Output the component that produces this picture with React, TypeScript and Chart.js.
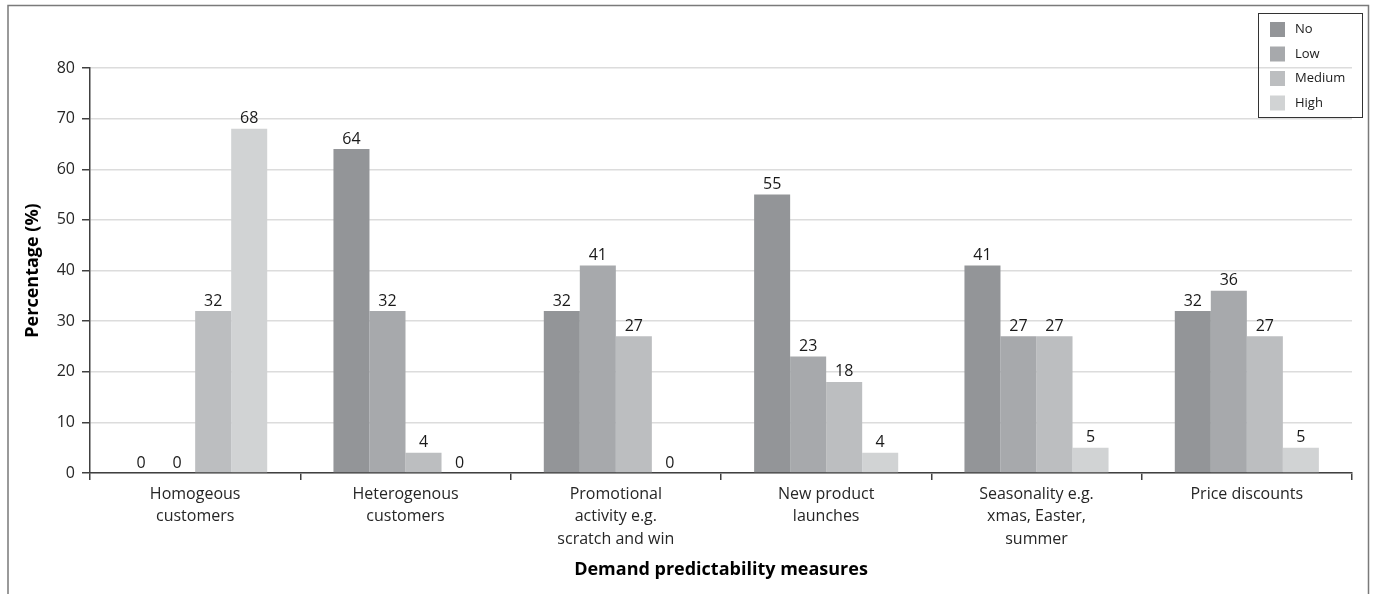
import React, { useEffect, useRef } from "react";
import { Chart, registerables } from "chart.js";

Chart.register(...registerables);

const categories: string[][] = [
  ["Homogeous", "customers"],
  ["Heterogenous", "customers"],
  ["Promotional", "activity e.g.", "scratch and win"],
  ["New product", "launches"],
  ["Seasonality e.g.", "xmas, Easter,", "summer"],
  ["Price discounts"],
];
const seriesNames = ["No", "Low", "Medium", "High"];
const noValues = [0, 64, 32, 55, 41, 32];
const lowValues = [0, 32, 41, 23, 27, 36];
const mediumValues = [32, 4, 27, 18, 27, 27];
const highValues = [68, 0, 0, 4, 5, 5];
const seriesColors = ["#939598", "#a7a9ac", "#bcbec0", "#d1d3d4"];

const FONT = "'Open Sans', sans-serif";

const framePlugin = {
  id: "frame",
  beforeDraw(chart: any) {
    const ctx = chart.ctx;
    ctx.save();
    ctx.strokeStyle = "#7a7a7a";
    ctx.lineWidth = 1.5;
    ctx.beginPath();
    ctx.moveTo(8, 600);
    ctx.lineTo(8, 5.5);
    ctx.lineTo(1368.5, 5.5);
    ctx.lineTo(1368.5, 600);
    ctx.stroke();
    ctx.restore();
  },
};

const valueLabelPlugin = {
  id: "valueLabels",
  afterDatasetsDraw(chart: any) {
    const ctx = chart.ctx;
    ctx.save();
    ctx.font = `16px ${FONT}`;
    ctx.fillStyle = "#1a1a1a";
    ctx.textAlign = "center";
    ctx.textBaseline = "bottom";
    chart.data.datasets.forEach((ds: any, i: number) => {
      const meta = chart.getDatasetMeta(i);
      meta.data.forEach((bar: any, j: number) => {
        ctx.fillText(String(ds.data[j]), bar.x, bar.y - 2);
      });
    });
    ctx.restore();
  },
};

const legendPlugin = {
  id: "boxLegend",
  afterDraw(chart: any) {
    const ctx = chart.ctx;
    ctx.save();
    ctx.strokeStyle = "#333333";
    ctx.lineWidth = 1;
    ctx.strokeRect(1258.5, 13.5, 104, 104);
    ctx.font = `13px ${FONT}`;
    ctx.textAlign = "left";
    ctx.textBaseline = "middle";
    chart.data.datasets.forEach((ds: any, i: number) => {
      const cy = 29.5 + i * 24.5;
      ctx.fillStyle = ds.backgroundColor;
      ctx.fillRect(1270, cy - 7.5, 15, 15);
      ctx.fillStyle = "#1a1a1a";
      ctx.fillText(ds.label, 1295, cy);
    });
    ctx.restore();
  },
};

export default function App() {
  const ref = useRef<HTMLCanvasElement>(null);
  useEffect(() => {
    if (!ref.current) return;
    const valueSets = [noValues, lowValues, mediumValues, highValues];
    const chart = new Chart(ref.current, {
      type: "bar",
      data: {
        labels: categories,
        datasets: seriesNames.map((name, i) => ({
          label: name,
          data: valueSets[i],
          backgroundColor: seriesColors[i],
          categoryPercentage: 0.685,
          barPercentage: 1,
        })),
      },
      options: {
        animation: false,
        responsive: false,
        maintainAspectRatio: false,
        layout: { padding: { top: 68, right: 23, left: 0, bottom: 0 } },
        plugins: { legend: { display: false }, tooltip: { enabled: false } },
        scales: {
          x: {
            afterFit: (s: any) => {
              s.height = 121;
            },
            grid: {
              offset: true,
              drawOnChartArea: false,
              drawTicks: true,
              tickLength: 7,
              tickColor: "#404040",
              lineWidth: 1.5,
            },
            border: { color: "#404040", width: 1.5 },
            ticks: {
              font: { family: FONT, size: 16, lineHeight: 1.4 },
              color: "#262626",
              padding: 3,
              maxRotation: 0,
              autoSkip: false,
            },
            title: {
              display: true,
              text: "Demand predictability measures",
              font: { family: FONT, size: 18, weight: "bold" },
              color: "#000000",
              padding: { bottom: 13, top: 0 },
            },
          },
          y: {
            min: 0,
            max: 80,
            afterFit: (s: any) => {
              s.width = 90;
            },
            grid: {
              color: "#dcdcdc",
              lineWidth: 1.5,
              drawTicks: true,
              tickLength: 8,
              tickColor: "#404040",
            },
            border: { color: "#404040", width: 1.5 },
            ticks: {
              stepSize: 10,
              font: { family: FONT, size: 16 },
              color: "#262626",
              padding: 7,
            },
            title: {
              display: true,
              text: "Percentage (%)",
              font: { family: FONT, size: 18, weight: "bold" },
              color: "#000000",
              padding: { top: 22, bottom: 0 },
            },
          },
        },
      },
      plugins: [framePlugin, valueLabelPlugin, legendPlugin],
    });
    return () => chart.destroy();
  }, []);
  return (
    <div style={{ position: "absolute", left: 0, top: 0, width: 1375, height: 594, background: "#ffffff" }}>
      <canvas ref={ref} width={1375} height={594} style={{ display: "block" }} />
    </div>
  );
}
